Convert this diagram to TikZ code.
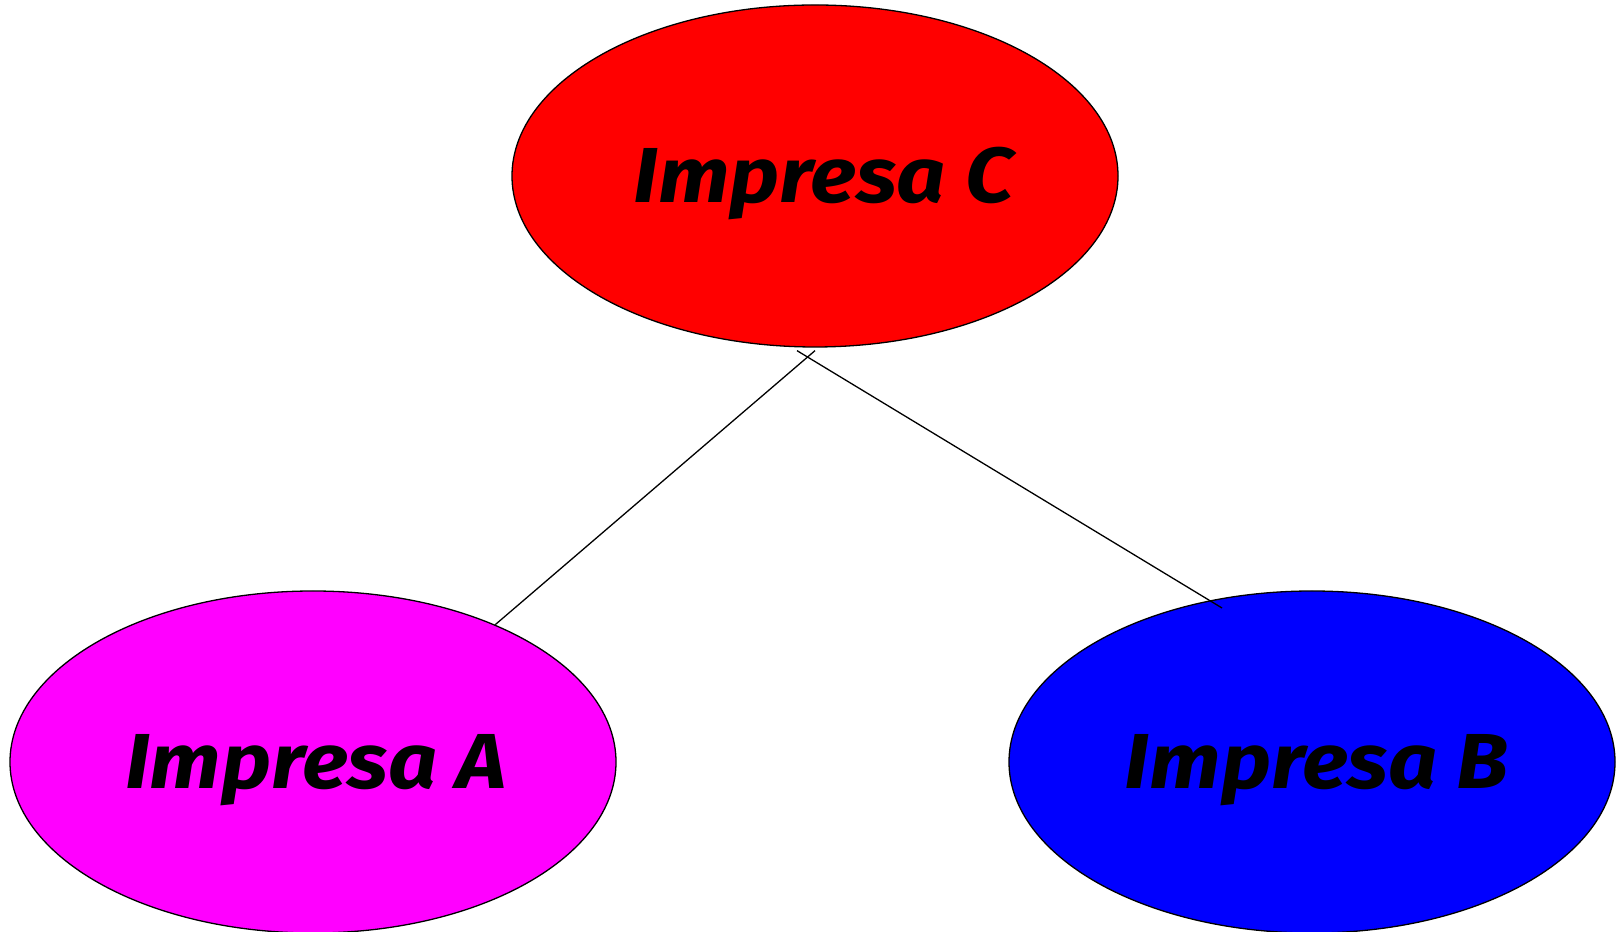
\documentclass[tikz,border=0pt]{standalone}
\usepackage{fontspec}
\setmainfont{Fira Sans}
\usetikzlibrary{shapes.geometric,calc}
\definecolor{firmC}{RGB}{255,0,0}
\definecolor{firmA}{RGB}{255,0,255}
\definecolor{firmB}{RGB}{0,0,255}
\newcommand{\firmlabel}[2]{\hspace*{#1}\raisebox{-8pt}[\height][\depth]{\scalebox{1.1}[1]{#2}}}
\tikzset{
  firm/.style={ellipse, draw=black, line width=1.3pt, minimum width=606pt, minimum height=342pt, inner sep=0pt,
    font=\fontsize{78}{82}\selectfont\bfseries\itshape, text=black},
  link/.style={draw=black, line width=1.3pt}
}
\begin{document}
\begin{tikzpicture}[x=1pt,y=1pt]
\useasboundingbox (0,0) rectangle (1621,931);
\node[firm, fill=firmC] (C) at (815,755) {\firmlabel{17pt}{Impresa C}};
\node[firm, fill=firmA] (A) at (313,169) {\firmlabel{6pt}{Impresa A}};
\node[firm, fill=firmB] (B) at (1312,169) {\firmlabel{10pt}{Impresa B}};
\coordinate (Ctip1) at ([yshift=-3pt]C.south);
\coordinate (Ctip2) at ([xshift=-18pt,yshift=-3pt]C.south);
\coordinate (Btip) at ([shift={(-90pt,154pt)}]B.center);
\draw[link] (A.37.5) -- (Ctip1);
\draw[link] (Ctip2) -- (Btip);
\end{tikzpicture}
\end{document}
